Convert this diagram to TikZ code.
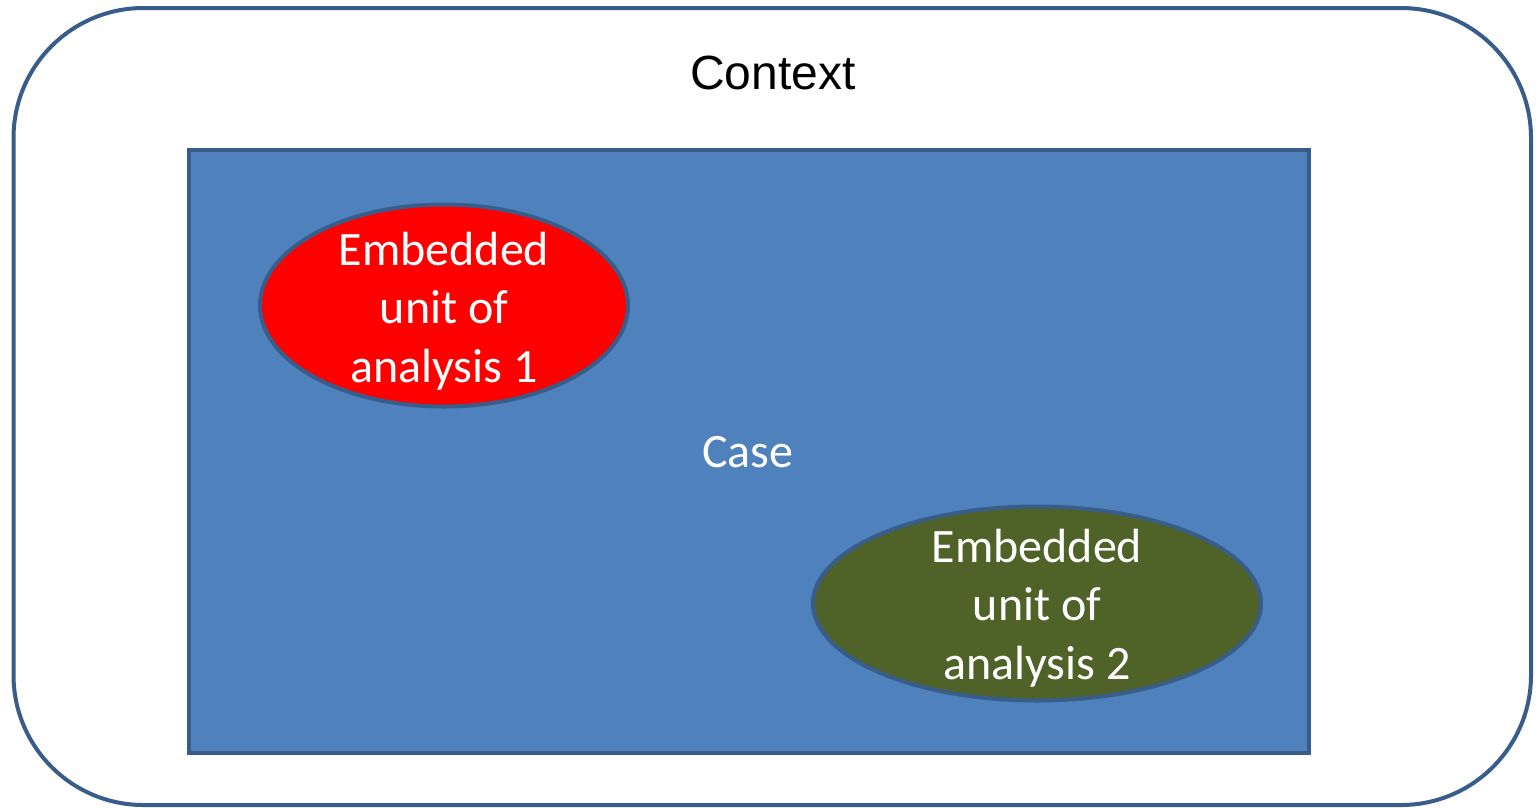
\documentclass[tikz,border=0pt]{standalone}
\usepackage{fontspec}
\setmainfont{Carlito}
\newfontfamily\arialfont{Liberation Sans}
\usetikzlibrary{shapes.geometric}
\definecolor{bordblue}{HTML}{385D8A}
\definecolor{caseblue}{HTML}{4F81BD}
\definecolor{unitgreen}{HTML}{4F6228}
\tikzset{
  ctxbox/.style={draw=bordblue, line width=4pt, rounded corners=130pt, fill=white},
  casebox/.style={draw=bordblue, line width=4pt, fill=caseblue},
  unit/.style={ellipse, draw=bordblue, line width=4pt, inner sep=0pt},
  unittext/.style={text=white, align=center, font=\fontsize{48}{58.5}\selectfont},
}
\begin{document}
\begin{tikzpicture}[x=1pt,y=-1pt]
\useasboundingbox (0,0) rectangle (1538,807);
\draw[ctxbox] (13.5,8) rectangle (1531,805);
\node[font=\arialfont\fontsize{48}{57}\selectfont] (ctx) at (773,73) {Context};
\draw[casebox] (189,149.5) rectangle (1309,752.5);
\node[text=white, font=\fontsize{48}{57}\selectfont] (case) at (748,452) {Case};
\node[unit, fill=red, minimum width=368pt, minimum height=202pt] (u1) at (444,305.5) {};
\node[unittext] (u1t) at (444,311) {Embedded\\unit of\\analysis 1};
\node[unit, fill=unitgreen, minimum width=448pt, minimum height=194pt] (u2) at (1037,603.5) {};
\node[unittext] (u2t) at (1037,608) {Embedded\\unit of\\analysis 2};
\end{tikzpicture}
\end{document}
